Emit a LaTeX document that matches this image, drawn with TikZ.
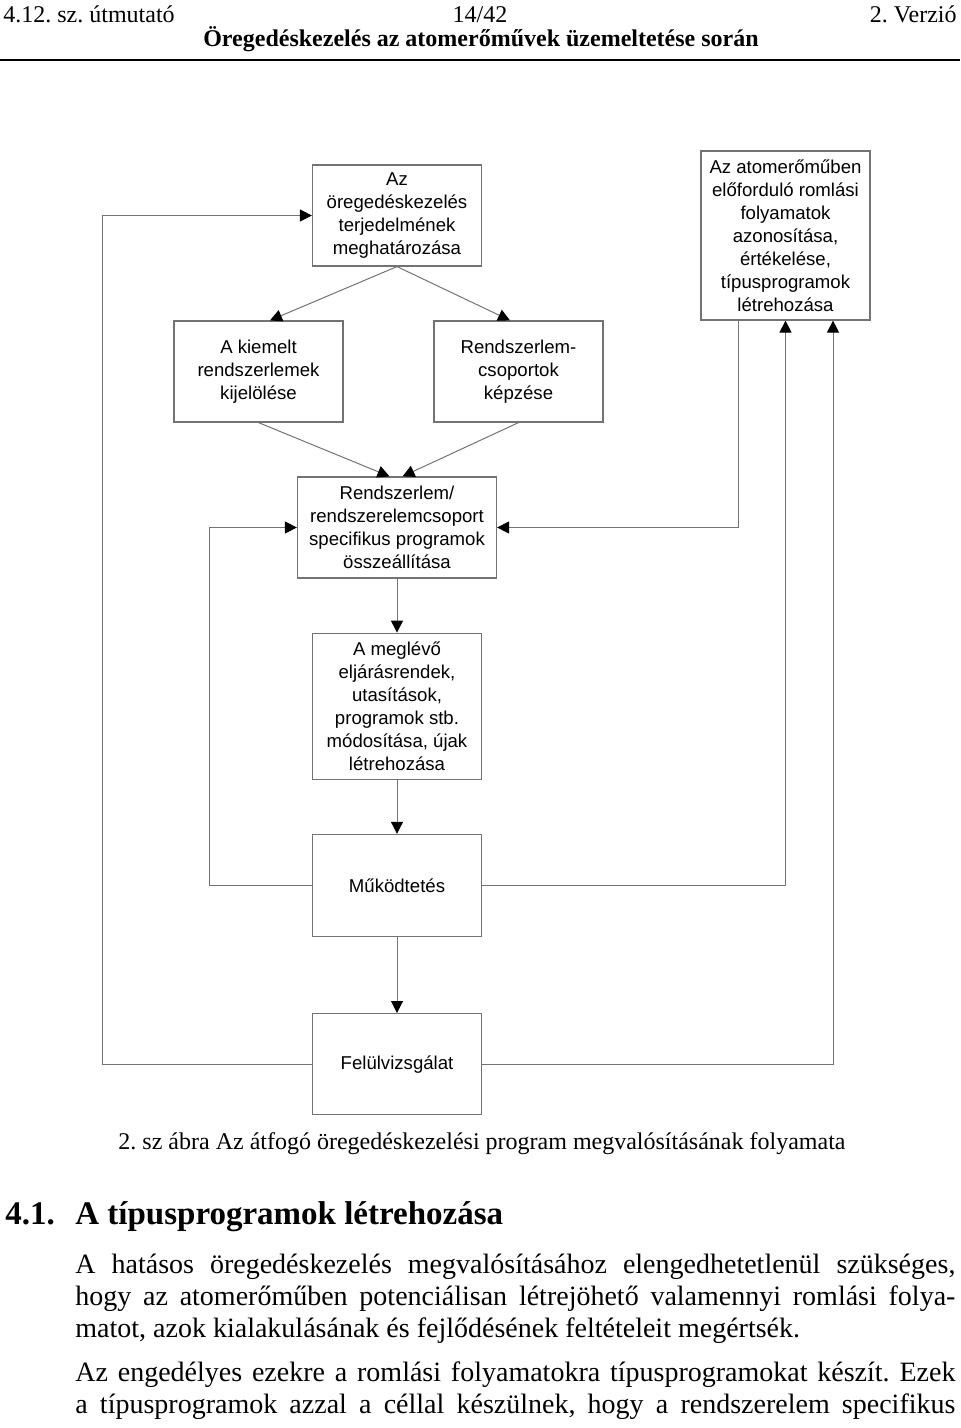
\documentclass[tikz,border=0pt]{standalone}
\usepackage{fontspec}
\setmainfont{Liberation Serif}
\setsansfont{Liberation Sans}
\usetikzlibrary{positioning}
\usetikzlibrary{arrows.meta}
\frenchspacing
\newcommand{\fejfont}{\fontsize{12}{14}\selectfont}
\newcommand{\cimfont}{\fontsize{16.5}{19}\selectfont\bfseries}
\newcommand{\torzsfont}{\fontsize{14}{16}\selectfont}
\newcommand{\dobozfont}{\sffamily\fontsize{9.3}{11.5}\selectfont}
\tikzset{node distance=27pt, % gap between the boxes of the middle column
      folyamat/.style={ % the boxes of the flow chart
      draw=black!55, line width=0.6pt,
      minimum width=84.5pt, minimum height=50.5pt,
      inner sep=1.5pt, align=center, font=\dobozfont},
      szoveg/.style={inner sep=0pt}, % page text around the chart
      >={Triangle[length=6pt,width=6pt,color=black]}, % filled black heads
      kapcsolat/.style={draw=black!55, line width=0.5pt, ->},
      every edge/.style={ % straight connectors
            draw=black!55, line width=0.5pt, ->}}

\begin{document}
\begin{tikzpicture}[x=0.5pt, y=-0.5pt] % one unit = one pixel of the page
      \useasboundingbox (0,0) rectangle (960,1428);
      % page header
      \node[szoveg, anchor=base west, font=\fejfont] (utmutato) at (3,23) {4.12. sz. útmutató};
      \node[szoveg, anchor=base, font=\fejfont] (oldal) at (480,23) {14/42};
      \node[szoveg, anchor=base east, font=\fejfont] (verzio) at (957,23) {2. Verzió};
      \node[szoveg, anchor=base, font=\fejfont\bfseries] (fejcim) at (481,47) {Öregedéskezelés az atomerőművek üzemeltetése során};
      \draw[line width=0.8pt] (0,60) -- (960,60);

      % boxes
      \node[folyamat] (terjedelem) at (397,215.5) {Az\\öregedéskezelés\\terjedelmének\\meghatározása};
      \node[folyamat] (kiemelt) at (258.5,371.5) {A kiemelt\\rendszerlemek\\kijelölése};
      \node[folyamat] (csoport) at (518.5,371.5) {Rendszerlem-\\csoportok\\képzése};
      \node[folyamat, minimum height=84.5pt] (romlas) at (785.5,235.5) {Az atomerőműben\\előforduló romlási\\folyamatok\\azonosítása,\\értékelése,\\típusprogramok\\létrehozása};
      \node[folyamat, minimum width=99.5pt] (specprog) at (397,527.5) {Rendszerlem/\\rendszerelemcsoport\\specifikus programok\\összeállítása};
      \node[folyamat, minimum height=73pt, below=of specprog] (eljaras) {A meglévő\\eljárásrendek,\\utasítások,\\programok stb.\\módosítása, újak\\létrehozása};
      \node[folyamat, minimum height=51pt, below=of eljaras] (mukodtetes) {Működtetés};
      \node[folyamat, below=38pt of mukodtetes] (felulvizsg) {Felülvizsgálat};

      % connectors
      \draw (terjedelem.south) edge ([xshift=5.75pt]kiemelt.north)
            (terjedelem.south) edge ([xshift=-4.25pt]csoport.north)
            (kiemelt.south) edge ([xshift=-3.75pt]specprog.north)
            (csoport.south) edge ([xshift=2.75pt]specprog.north)
            (specprog) edge (eljaras)
            (eljaras) edge (mukodtetes)
            (mukodtetes) edge (felulvizsg);
      \draw[kapcsolat] (felulvizsg.west) -- ++(-104.5pt,0) |- (terjedelem.west);
      \draw[kapcsolat] (mukodtetes.west) -- ++(-51pt,0) |- (specprog.west);
      \draw[kapcsolat] (mukodtetes.east) -| (romlas.south);
      \draw[kapcsolat] (felulvizsg.east) -| ([xshift=23.75pt]romlas.south);
      \draw[kapcsolat] ([xshift=-23.75pt]romlas.south) |- (specprog.east);

      % caption and the text below
      \node[szoveg, anchor=base, font=\fejfont] (abra) at (482,1149) {2. sz ábra Az átfogó öregedéskezelési program megvalósításának folyamata};
      \node[szoveg, anchor=base west, font=\cimfont] (szakaszszam) at (5,1224) {4.1.};
      \node[szoveg, anchor=base west, font=\cimfont] (szakaszcim) at (75,1224) {A típusprogramok létrehozása};
      \node[szoveg, anchor=base west, font=\torzsfont] (sor1) at (75,1273) {\hbox to 440pt{A hatásos öregedéskezelés megvalósításához elengedhetetlenül szükséges,}};
      \node[szoveg, anchor=base west, font=\torzsfont] (sor2) at (75,1305) {\hbox to 440pt{hogy az atomerőműben potenciálisan létrejöhető valamennyi romlási folya-}};
      \node[szoveg, anchor=base west, font=\torzsfont] (sor3) at (75,1337) {matot, azok kialakulásának és fejlődésének feltételeit megértsék.};
      \node[szoveg, anchor=base west, font=\torzsfont] (sor4) at (75,1381) {\hbox to 440pt{Az engedélyes ezekre a romlási folyamatokra típusprogramokat készít. Ezek}};
      \node[szoveg, anchor=base west, font=\torzsfont] (sor5) at (75,1413) {\hbox to 440pt{a típusprogramok azzal a céllal készülnek, hogy a rendszerelem specifikus}};
\end{tikzpicture}
\end{document}
